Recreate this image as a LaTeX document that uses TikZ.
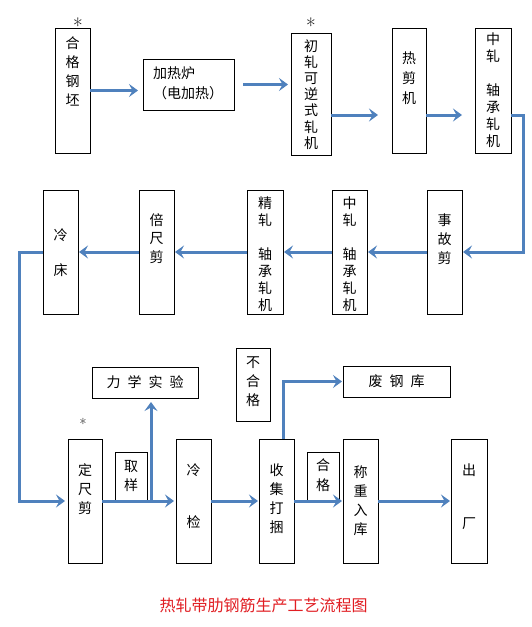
\documentclass[tikz,border=0pt]{standalone}
\usepackage{fontspec}
\newfontfamily\cjk{Noto Sans CJK SC}
\usetikzlibrary{arrows.meta, positioning}
\definecolor{flowblue}{RGB}{79,129,189}
\definecolor{titlered}{RGB}{225,30,35}
\newcommand{\starglyph}{\raisebox{-0.38em}[0.37em][0pt]{*}}
\tikzstyle{stage} = [
  rectangle,
  draw=black,
  line width=0.9pt,
  inner sep=0,
  outer sep=0,
  text width=35pt,
  align=center,
  font=\cjk\fontsize{14}{17}\selectfont
]
\tikzstyle{loose} = [
  font=\cjk\fontsize{14}{19}\selectfont
]
\tikzstyle{store} = [
  rectangle,
  draw=black,
  line width=0.9pt,
  inner sep=0,
  outer sep=0,
  minimum height=31pt,
  text centered,
  font=\cjk\fontsize{14}{17}\selectfont
]
\tikzstyle{starmark} = [
  inner sep=0,
  font=\fontsize{21}{21}\selectfont
]
\tikzstyle{flow} = [
  draw=flowblue,
  line width=3pt,
  -{Stealth[length=9pt,width=13pt,inset=3.5pt]},
  shorten >=1pt
]

\begin{document}
\begin{tikzpicture}[x=1pt, y=-1pt]
      \useasboundingbox [fill=white] (0,0) rectangle (532,627);

      % first row
      \node [stage, loose, text height=20pt, text depth=105pt, anchor=north west] (billet) at (55,28) {合\\格\\钢\\坯};
      \node [store, text width=71pt, align=left, inner xsep=10pt, text height=19pt, text depth=32pt,
             font=\cjk\fontsize{14}{20}\selectfont, right=53pt of billet, yshift=6pt] (furnace) {加热炉\\（电加热）};
      \node [stage, text width=40pt, text height=18pt, text depth=104pt, font=\cjk\fontsize{14}{16.2}\selectfont,
             right=57pt of furnace, yshift=-9.5pt] (roughing) {初\\轧\\可\\逆\\式\\轧\\机};
      \node [stage, text width=34pt, text height=35pt, text depth=90pt, font=\cjk\fontsize{14}{20}\selectfont,
             right=61pt of roughing, yshift=3.5pt] (hotshear) {热\\剪\\机};
      \node [stage, text width=36pt, text height=16pt, text depth=109pt, right=49pt of hotshear] (intermill) {中\\轧\\[17pt]轴\\承\\轧\\机};

      % second row
      \node [stage, loose, text height=35pt, text depth=89pt, anchor=north west] (accshear) at (427,190) {事\\故\\剪};
      \node [stage, text height=18pt, text depth=106pt, left=60pt of accshear] (intermilltwo) {中\\轧\\[17pt]轴\\承\\轧\\机};
      \node [stage, text width=36pt, text height=18pt, text depth=106pt, left=49pt of intermilltwo] (finishing) {精\\轧\\[17pt]轴\\承\\轧\\机};
      \node [stage, text height=35pt, text depth=89pt, font=\cjk\fontsize{14}{18.5}\selectfont, left=73pt of finishing] (dividing) {倍\\尺\\剪};
      \node [stage, text height=50pt, text depth=74pt, left=61pt of dividing] (coolbed) {冷\\[18pt]床};

      % third row
      \node [stage, loose, text width=34pt, text height=36pt, text depth=88pt, anchor=north west] (cutshear) at (68,439) {定\\尺\\剪};
      \node [stage, text height=36pt, text depth=88pt, right=74pt of cutshear] (coldcheck) {冷\\[35pt]检};
      \node [stage, loose, text height=36pt, text depth=88pt, right=48pt of coldcheck] (bundling) {收\\集\\打\\捆};
      \node [stage, loose, text height=38pt, text depth=86pt, right=49pt of bundling] (weighing) {称\\重\\入\\库};
      \node [stage, text width=36pt, text height=36pt, text depth=88pt, right=73pt of weighing] (dispatch) {出\\[36pt]厂};

      % side boxes
      \node [stage, loose, text width=32pt, text height=19pt, text depth=30pt, anchor=north west] (sampling) at (115,452) {取\\样};
      \node [stage, text width=32pt, text height=18pt, text depth=31pt, font=\cjk\fontsize{14}{20}\selectfont,
             anchor=north west] (passed) at (307,452) {合\\格};
      \node [stage, loose, text width=34pt, text height=19pt, text depth=54pt, anchor=north west] (rejected) at (236,348) {不\\合\\格};
      \node [store, minimum width=106pt, anchor=north west] (mechtest) at (92,367) {力\enspace 学\enspace 实\enspace 验};
      \node [store, minimum width=107pt, anchor=north west] (scrapyard) at (343,366) {废\enspace 钢\enspace 库};

      % marks and title
      \node [starmark] (starone) at (78,22) {\starglyph};
      \node [starmark] (startwo) at (311,21.5) {\starglyph};
      \node [starmark, font=\fontsize{15}{15}\selectfont] (starthree) at (83,421) {\starglyph};
      \node [font=\cjk\fontsize{16}{16}\selectfont, text=titlered] (title) at (263.5,605) {热轧带肋钢筋生产工艺流程图};

      \coordinate (fur) at ([xshift=9pt]furnace.east);
      \coordinate (rou) at ([yshift=-21pt]roughing.east);
      \coordinate (hot) at ([yshift=-24.5pt]hotshear.east);
      \coordinate (mid) at ([yshift=-24.5pt]intermill.east);
      \coordinate (smp) at ([xshift=4pt]sampling.east);
      \coordinate (bdl) at ([xshift=6.5pt]bundling.north);

      \draw [flow, shorten >=5pt] (billet.east) -- (billet.east -| furnace.west);
      \draw [flow, shorten >=3pt] (fur) -- (fur -| roughing.west);
      \draw [flow, shorten >=14pt] (rou) -- (rou -| hotshear.west);
      \draw [flow, shorten >=13pt] (hot) -- (hot -| intermill.west);
      \draw [flow] (mid) -- ++(12,0) |- (accshear.east);
      \draw [flow] (accshear) -- (intermilltwo);
      \draw [flow] (intermilltwo) -- (finishing);
      \draw [flow] (finishing) -- (dividing);
      \draw [flow] (dividing) -- (coolbed);
      \draw [flow, shorten >=3pt] (coolbed.west) -- ++(-24,0) |- (cutshear.west);
      \draw [flow, shorten >=2pt] (cutshear) -- (coldcheck);
      \draw [flow, shorten >=4pt] (smp |- cutshear.east) -- (smp |- mechtest.south);
      \draw [flow] (coldcheck) -- (bundling);
      \draw [flow] (bdl) |- (scrapyard.west);
      \draw [flow] (bundling) -- (weighing);
      \draw [flow] (weighing) -- (dispatch);

    \end{tikzpicture}
\end{document}
